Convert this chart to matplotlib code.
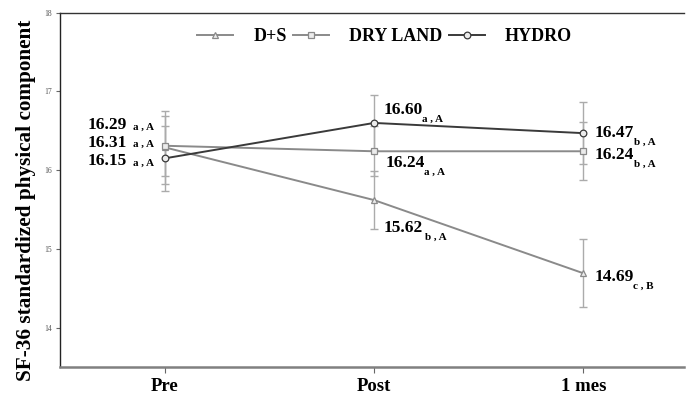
import matplotlib
matplotlib.use("Agg")
import matplotlib.pyplot as plt
import matplotlib.transforms as mtransforms

categories = ["Pre", "Post", "1 mes"]
series_names = ["D+S", "DRY LAND", "HYDRO"]
ds_vals = [16.29, 15.62, 14.69]
dry_vals = [16.31, 16.24, 16.24]
hydro_vals = [16.15, 16.60, 16.47]
ds_err = [0.46, 0.37, 0.43]
dry_err = [0.38, 0.32, 0.37]
hydro_err = [0.41, 0.35, 0.39]
ds_letters = ["a , A", "b , A", "c , B"]
dry_letters = ["a , A", "a , A", "b , A"]
hydro_letters = ["a , A", "a , A", "b , A"]
yticks = [14, 15, 16, 17, 18]

SERIF = "Liberation Serif"
fig = plt.figure(figsize=(6.86, 3.98), dpi=100)
ax = fig.add_axes([60/686, 31/398, 624/686, (367-12.7)/398])

x = list(range(len(categories)))
styles = [
    (ds_vals, ds_err, "^", "#8a8a8a"),
    (dry_vals, dry_err, "s", "#8a8a8a"),
    (hydro_vals, hydro_err, "o", "#3a3a3a"),
]
for (vals, err, mk, col), name in zip(styles, series_names):
    ax.errorbar(x, vals, yerr=err, fmt="none", ecolor="#ababab", elinewidth=1.0,
                capsize=3, capthick=1.0, zorder=2)
for (vals, err, mk, col), name in zip(styles, series_names):
    ax.plot(x, vals, color=col, lw=1.4, marker=mk, ms=4.8, mfc="#ececec",
            mec=col, mew=0.9, label=name, zorder=3)

ax.set_xlim(-0.5, 2.48)
ax.set_ylim(13.5, 18)
ax.set_yticks(yticks)
ax.set_yticklabels([str(t) for t in yticks], fontfamily=SERIF, fontsize=5.5, color="#555555")
ax.set_xticks(x)
ax.set_xticklabels(categories, fontfamily=SERIF, fontweight="bold", fontsize=13.5)
ax.tick_params(axis="y", length=3, width=0.8, color="#666666", pad=3)
ax.tick_params(axis="x", length=4, width=0.8, color="#666666", pad=4)

ax.spines["right"].set_visible(False)
ax.spines["top"].set_color("#333333")
ax.spines["top"].set_linewidth(1.0)
ax.spines["left"].set_color("#222222")
ax.spines["left"].set_linewidth(1.0)
ax.spines["bottom"].set_color("#808080")
ax.spines["bottom"].set_linewidth(1.8)

ax.set_ylabel("SF-36 standardized physical component", fontfamily=SERIF,
              fontweight="bold", fontsize=15.3, labelpad=4)
ax.yaxis.set_label_coords(-0.038, 0.471)

leg = ax.legend(loc="center", bbox_to_anchor=(0.52, 0.932), ncol=3, frameon=False,
                prop={"family": SERIF, "weight": "bold", "size": 13},
                handlelength=2.0, handletextpad=1.1, columnspacing=0.35,
                borderpad=0, borderaxespad=0)

def label(xi, yi, num, sub, dxn, dyn, dxs, dys, ha="left"):
    t1 = mtransforms.offset_copy(ax.transData, fig=fig, x=dxn, y=-dyn, units="dots")
    ax.text(xi, yi, num, transform=t1, ha=ha, va="center", fontfamily=SERIF,
            fontweight="bold", fontsize=12.5)
    t2 = mtransforms.offset_copy(ax.transData, fig=fig, x=dxs, y=-dys, units="dots")
    ax.text(xi, yi, sub, transform=t2, ha="left", va="center", fontfamily=SERIF,
            fontweight="bold", fontsize=8)

# Pre
label(0, ds_vals[0], f"{ds_vals[0]:.2f}", ds_letters[0], -77, -22, -32, -20)
label(0, dry_vals[0], f"{dry_vals[0]:.2f}", dry_letters[0], -77, -3, -32, -1)
label(0, hydro_vals[0], f"{hydro_vals[0]:.2f}", hydro_letters[0], -77, 3, -32, 5)
# Post
label(1, hydro_vals[1], f"{hydro_vals[1]:.2f}", hydro_letters[1], 9, -13, 48, -4)
label(1, dry_vals[1], f"{dry_vals[1]:.2f}", dry_letters[1], 11, 12, 50, 21)
label(1, ds_vals[1], f"{ds_vals[1]:.2f}", ds_letters[1], 9, 28, 51, 37)
# 1 mes
label(2, hydro_vals[2], f"{hydro_vals[2]:.2f}", hydro_letters[2], 11, 0, 51, 9)
label(2, dry_vals[2], f"{dry_vals[2]:.2f}", dry_letters[2], 11, 4, 51, 13)
label(2, ds_vals[2], f"{ds_vals[2]:.2f}", ds_letters[2], 11, 4, 50, 13)

fig.savefig("out.png", dpi=100)
